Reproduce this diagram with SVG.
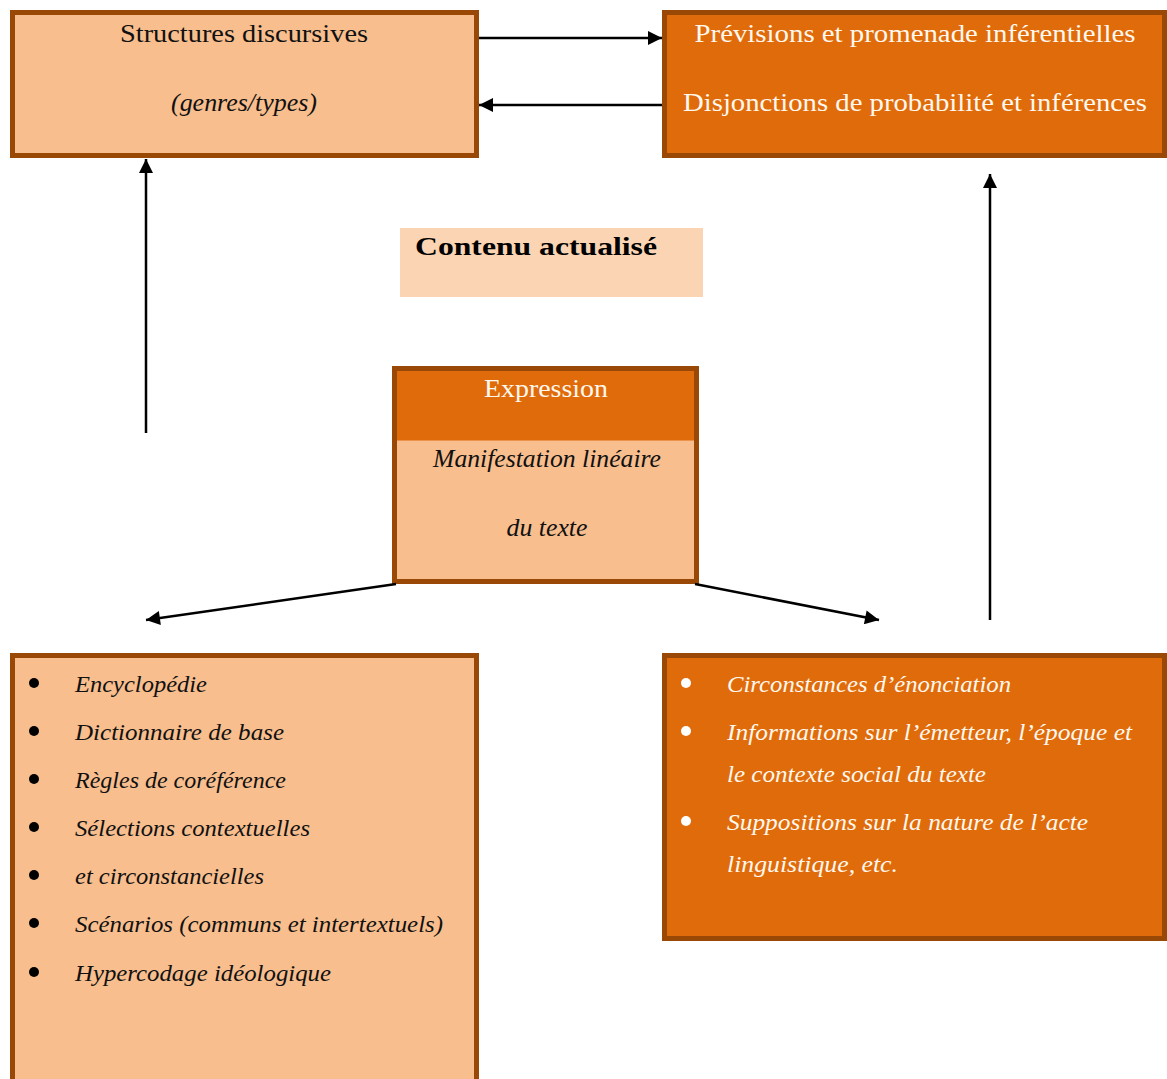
<svg xmlns="http://www.w3.org/2000/svg" width="1167" height="1079" viewBox="0 0 1167 1079">
  <defs>
    <marker id="arrow" viewBox="0 0 10 10" refX="10" refY="5" markerWidth="15" markerHeight="14" orient="auto-start-reverse" markerUnits="userSpaceOnUse">
      <path d="M0,0 L10,5 L0,10 z" fill="#000"/>
    </marker>
    <style>
      .light { fill: #F8BE8E; stroke: #9A4806; stroke-width: 5; }
      .dark { fill: #E06B0B; stroke: #9A4806; stroke-width: 5; }
      .t { font-family: "Liberation Serif", "DejaVu Serif", serif; font-size: 25px; fill: #111; }
      .tw { font-family: "Liberation Serif", "DejaVu Serif", serif; font-size: 25px; fill: #FFF8EE; }
      .it { font-style: italic; }
      .li { font-family: "Liberation Serif", "DejaVu Serif", serif; font-size: 23px; font-style: italic; fill: #111; }
      .liw { font-family: "Liberation Serif", "DejaVu Serif", serif; font-size: 23px; font-style: italic; fill: #FFF8EE; }
      .conn { stroke: #000; stroke-width: 2.5; fill: none; marker-end: url(#arrow); }
    </style>
  </defs>
  <rect width="1167" height="1079" fill="#FFFFFF"/>

  <!-- Structures discursives -->
  <g id="structures">
    <rect class="light" x="12.5" y="12.5" width="464" height="143"/>
    <text class="t" x="244" y="42" text-anchor="middle" textLength="248" lengthAdjust="spacingAndGlyphs">Structures discursives</text>
    <text class="t it" x="244" y="111" text-anchor="middle" textLength="146" lengthAdjust="spacingAndGlyphs">(genres/types)</text>
  </g>

  <!-- Prévisions -->
  <g id="previsions">
    <rect class="dark" x="664.5" y="12.5" width="500" height="143"/>
    <text class="tw" x="915" y="42" text-anchor="middle" textLength="441" lengthAdjust="spacingAndGlyphs">Prévisions et promenade inférentielles</text>
    <text class="tw" x="915" y="111" text-anchor="middle" textLength="464" lengthAdjust="spacingAndGlyphs">Disjonctions de probabilité et inférences</text>
  </g>

  <!-- Contenu actualisé -->
  <g id="contenu">
    <rect x="400" y="228" width="303" height="69" fill="#FAD4B3"/>
    <text x="415" y="255" font-family="Liberation Serif, DejaVu Serif, serif" font-size="25" font-weight="bold" fill="#000" textLength="242" lengthAdjust="spacingAndGlyphs">Contenu actualisé</text>
  </g>

  <!-- Expression -->
  <g id="expression">
    <rect x="394.5" y="368.5" width="302" height="213" fill="#F8BE8E"/>
    <rect x="394.5" y="368.5" width="302" height="72" fill="#E06B0B"/>
    <rect x="394.5" y="368.5" width="302" height="213" fill="none" stroke="#9A4806" stroke-width="5"/>
    <text class="tw" x="546" y="397" text-anchor="middle" textLength="124" lengthAdjust="spacingAndGlyphs">Expression</text>
    <text class="t it" x="547" y="467" text-anchor="middle" textLength="228" lengthAdjust="spacingAndGlyphs">Manifestation linéaire</text>
    <text class="t it" x="547" y="536" text-anchor="middle" textLength="81" lengthAdjust="spacingAndGlyphs">du texte</text>
  </g>

  <!-- Encyclopedic competence list -->
  <g id="competences">
    <path d="M12.5,1081 V655.5 H476.5 V1081" class="light"/>
    <g fill="#000">
      <circle cx="34" cy="683" r="5"/>
      <circle cx="34" cy="731" r="5"/>
      <circle cx="34" cy="779" r="5"/>
      <circle cx="34" cy="827" r="5"/>
      <circle cx="34" cy="875" r="5"/>
      <circle cx="34" cy="923" r="5"/>
      <circle cx="34" cy="972" r="5"/>
    </g>
    <text class="li" x="75" y="692" textLength="132" lengthAdjust="spacingAndGlyphs">Encyclopédie</text>
    <text class="li" x="75" y="740" textLength="209" lengthAdjust="spacingAndGlyphs">Dictionnaire de base</text>
    <text class="li" x="75" y="788" textLength="211" lengthAdjust="spacingAndGlyphs">Règles de coréférence</text>
    <text class="li" x="75" y="836" textLength="235" lengthAdjust="spacingAndGlyphs">Sélections contextuelles</text>
    <text class="li" x="75" y="884" textLength="189" lengthAdjust="spacingAndGlyphs">et circonstancielles</text>
    <text class="li" x="75" y="932" textLength="368" lengthAdjust="spacingAndGlyphs">Scénarios (communs et intertextuels)</text>
    <text class="li" x="75" y="981" textLength="256" lengthAdjust="spacingAndGlyphs">Hypercodage idéologique</text>
  </g>

  <!-- Enunciation circumstances list -->
  <g id="circonstances">
    <rect class="dark" x="664.5" y="655.5" width="500" height="283"/>
    <g fill="#FFFFFF">
      <circle cx="686" cy="683" r="5"/>
      <circle cx="686" cy="731" r="5"/>
      <circle cx="686" cy="821" r="5"/>
    </g>
    <text class="liw" x="727" y="692" textLength="284" lengthAdjust="spacingAndGlyphs">Circonstances d’énonciation</text>
    <text class="liw" x="727" y="740" textLength="405" lengthAdjust="spacingAndGlyphs">Informations sur l’émetteur, l’époque et</text>
    <text class="liw" x="727" y="782" textLength="259" lengthAdjust="spacingAndGlyphs">le contexte social du texte</text>
    <text class="liw" x="727" y="830" textLength="361" lengthAdjust="spacingAndGlyphs">Suppositions sur la nature de l’acte</text>
    <text class="liw" x="727" y="872" textLength="171" lengthAdjust="spacingAndGlyphs">linguistique, etc.</text>
  </g>

  <!-- Connectors -->
  <g id="connectors">
    <line class="conn" x1="479" y1="38" x2="662" y2="38"/>
    <line class="conn" x1="662" y1="105" x2="479" y2="105"/>
    <line class="conn" x1="146" y1="433" x2="146" y2="159"/>
    <line class="conn" x1="990" y1="620" x2="990" y2="174"/>
    <line class="conn" x1="396" y1="584" x2="146" y2="620"/>
    <line class="conn" x1="695" y1="584" x2="879" y2="620"/>
  </g>
</svg>
